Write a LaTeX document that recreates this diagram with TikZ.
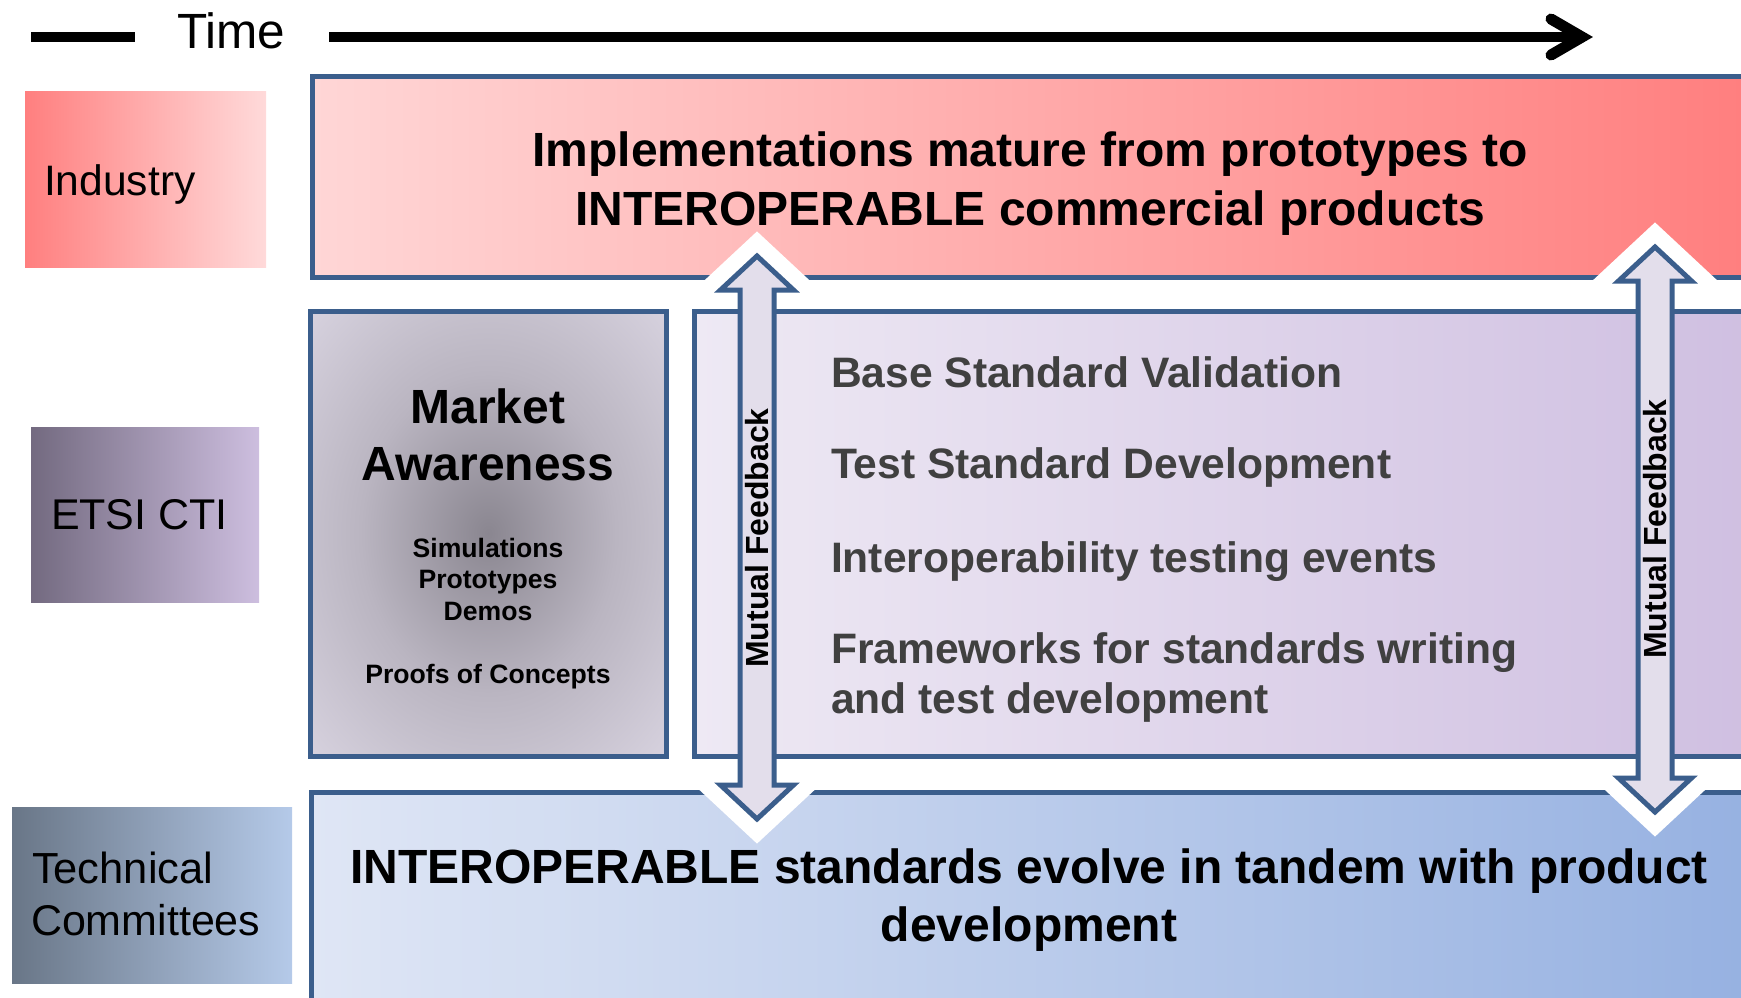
\documentclass[tikz,border=0pt]{standalone}
\usepackage{fontspec}
\setmainfont{Liberation Sans}
\definecolor{bordblue}{HTML}{3B5E8C}
\definecolor{indL}{HTML}{FF7F7F}
\definecolor{indR}{HTML}{FFDADA}
\definecolor{topL}{HTML}{FFD6D6}
\definecolor{topR}{HTML}{FF7E7E}
\definecolor{etsL}{HTML}{736A80}
\definecolor{etsR}{HTML}{CDBEDF}
\definecolor{tecL}{HTML}{697687}
\definecolor{tecR}{HTML}{B5CAE9}
\definecolor{midL}{HTML}{EEE9F4}
\definecolor{midR}{HTML}{CFBFE1}
\definecolor{botL}{HTML}{DFE6F5}
\definecolor{botR}{HTML}{96B1E1}
\definecolor{arrfill}{HTML}{E3DEEB}
\definecolor{txtgray}{HTML}{404040}
\definecolor{mcen}{HTML}{8A8690}
\definecolor{mmid}{HTML}{BAB5C1}
\definecolor{medge}{HTML}{DED9E6}
\pgfdeclareradialshading{mawshade}{\pgfpointorigin}{color(0bp)=(mcen); color(18bp)=(mmid); color(40bp)=(medge); color(50bp)=(medge)}
\newcommand{\fbarrowpath}[3]{%
  (#1,#2) -- ++(36.5,34) -- ++(-19.5,0) -- (#1+17,#3-34) -- ++(19.5,0) -- (#1,#3)
  -- (#1-36.5,#3-34) -- ++(19.5,0) -- (#1-17,#2+34) -- ++(-19.5,0) -- cycle}
\tikzset{
  band/.style={draw=bordblue, line width=5pt},
  timeline/.style={line width=10pt, line cap=butt},
  lbl/.style={inner sep=0pt, outer sep=0pt},
  sidelbl/.style={lbl, anchor=base west},
  bigb/.style={lbl, anchor=base, font=\fontsize{48}{58}\selectfont\bfseries},
  midtxt/.style={lbl, anchor=base west, text=txtgray, font=\fontsize{42.6}{50}\selectfont\bfseries},
  smalltxt/.style={lbl, anchor=base, font=\fontsize{26.6}{31}\selectfont\bfseries},
  halo/.style={draw=white, line width=36pt, line join=miter, fill=white},
  fbarrow/.style={draw=bordblue, line width=5pt, line join=miter, fill=arrfill},
  fbtext/.style={lbl, rotate=90, font=\fontsize{32}{38}\selectfont\bfseries}
}
\begin{document}
\begin{tikzpicture}[x=1pt,y=-1pt]
\useasboundingbox (0,0) rectangle (1741,997);
\clip (0,0) rectangle (1741,997);
% time axis
\coordinate (dashA) at (31,37);
\coordinate (dashB) at (135,37);
\draw[timeline] (dashA) -- (dashB);
\node[lbl, anchor=base west, font=\fontsize{49.5}{58}\selectfont] (time) at (177,48) {Time};
\coordinate (tstart) at (329,37);
\coordinate (tend) at (1578,37);
\draw[timeline] (tstart) -- (tend);
\draw[line width=11pt, line cap=round, line join=miter] (1551,19) -- (1582,37) -- (1551,55);
% side labels
\fill[left color=indL, right color=indR] (25,91) rectangle (266,267);
\node[sidelbl, font=\fontsize{42.6}{50}\selectfont] (industry) at (44,195) {Industry};
\fill[left color=etsL, right color=etsR] (31,427) rectangle (259,602);
\node[sidelbl, font=\fontsize{43}{50}\selectfont] (etsi) at (51,529) {ETSI CTI};
\fill[left color=tecL, right color=tecR] (12,807) rectangle (292,983);
\node[sidelbl, font=\fontsize{43.5}{52}\selectfont] (tech1) at (32,883) {Technical};
\node[sidelbl, font=\fontsize{43}{52}\selectfont] (tech2) at (31,935) {Committees};
% bands
\path[band, left color=topL, right color=topR] (312,76) rectangle (1760,277);
\path[band, left color=botL, right color=botR] (311,792) rectangle (1760,1012);
% market awareness
\path[band, shading=mawshade] (310.5,311) rectangle (666,756);
\node[lbl, anchor=base, font=\fontsize{48}{56}\selectfont\bfseries] (mk1) at (488,423) {Market};
\node[lbl, anchor=base, font=\fontsize{48}{56}\selectfont\bfseries] (mk2) at (488,480) {Awareness};
\node[smalltxt] (sim) at (488,557) {Simulations};
\node[smalltxt] (proto) at (488,588) {Prototypes};
\node[smalltxt] (demos) at (488,620) {Demos};
\node[smalltxt] (poc) at (488,683) {Proofs of Concepts};
% halos
\path[halo] \fbarrowpath{757}{256}{819};
\path[halo] \fbarrowpath{1655}{247}{812};
% middle box
\path[band, left color=midL, right color=midR] (694,311) rectangle (1760,756);
% arrows
\path[fbarrow] \fbarrowpath{757}{256}{819};
\path[fbarrow] \fbarrowpath{1655}{247}{812};
\node[fbtext] (fb1) at (757,538) {Mutual Feedback};
\node[fbtext] (fb2) at (1655,529) {Mutual Feedback};
% band texts
\node[bigb] (top1) at (1030,166) {Implementations mature from prototypes to};
\node[bigb] (top2) at (1030,225) {INTEROPERABLE commercial products};
\node[bigb] (bot1) at (1029,883) {INTEROPERABLE standards evolve in tandem with product};
\node[bigb] (bot2) at (1029,941) {development};
% middle texts
\node[midtxt] (m1) at (831,387) {Base Standard Validation};
\node[midtxt] (m2) at (831,478) {Test Standard Development};
\node[midtxt] (m3) at (831,572) {Interoperability testing events};
\node[midtxt] (m4) at (831,663) {Frameworks for standards writing};
\node[midtxt] (m5) at (831,713) {and test development};
\end{tikzpicture}
\end{document}
